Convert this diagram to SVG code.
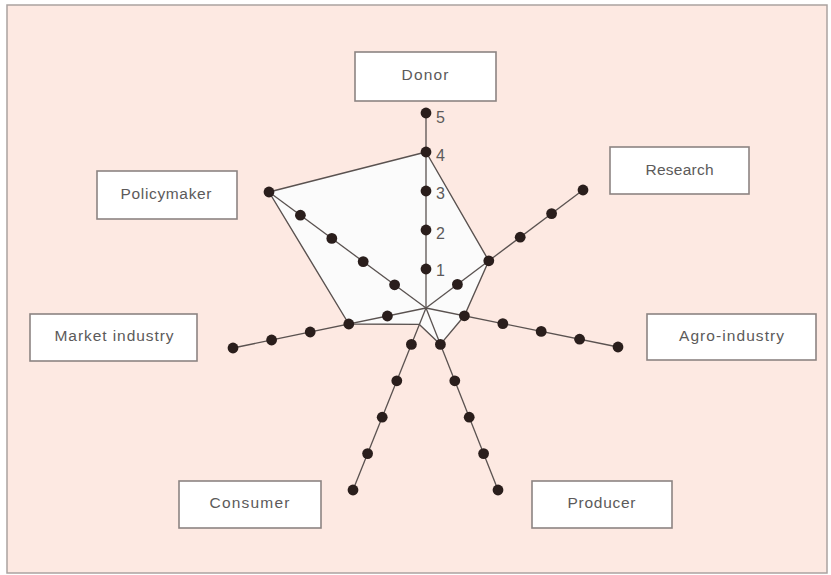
<svg xmlns="http://www.w3.org/2000/svg" width="831" height="575" viewBox="0 0 831 575">
<style>
.bg{fill:#fde9e2;stroke:#aaa2a0;stroke-width:1.5}
.box{fill:#ffffff;stroke:#8c8482;stroke-width:1.6}
.lbl{font-family:"Liberation Sans",Arial,sans-serif;font-size:15.5px;fill:#5c5a5a;text-anchor:middle}
.num{font-family:"Liberation Sans",Arial,sans-serif;font-size:16px;fill:#5c5a5a}
.spoke{stroke:#5a5250;stroke-width:1.3;fill:none}
.poly{fill:#fbfbfb;stroke:#5a5250;stroke-width:1.4;stroke-linejoin:round}
.dot{fill:#2a1e1c}
</style>
<rect class="bg" x="7" y="5" width="820" height="568"/>
<g id="connectors">
<polygon class="poly" points="426,152 488.8,260.8 464.4,315.8 440.4,344.4 419.4,324.4 348.8,324 269,192"/>
<line class="spoke" x1="426" y1="308" x2="426" y2="113"/>
<line class="spoke" x1="426" y1="308" x2="583" y2="190"/>
<line class="spoke" x1="426" y1="308" x2="618" y2="347"/>
<line class="spoke" x1="426" y1="308" x2="498" y2="490"/>
<line class="spoke" x1="426" y1="308" x2="353" y2="490"/>
<line class="spoke" x1="426" y1="308" x2="233" y2="348"/>
<line class="spoke" x1="426" y1="308" x2="269" y2="192"/>
</g>
<g id="dots">
<circle class="dot" cx="426" cy="269" r="5.4"/><circle class="dot" cx="426" cy="230" r="5.4"/><circle class="dot" cx="426" cy="191" r="5.4"/><circle class="dot" cx="426" cy="152" r="5.4"/><circle class="dot" cx="426" cy="113" r="5.4"/>
<circle class="dot" cx="457.4" cy="284.4" r="5.4"/><circle class="dot" cx="488.8" cy="260.8" r="5.4"/><circle class="dot" cx="520.2" cy="237.2" r="5.4"/><circle class="dot" cx="551.6" cy="213.6" r="5.4"/><circle class="dot" cx="583" cy="190" r="5.4"/>
<circle class="dot" cx="464.4" cy="315.8" r="5.4"/><circle class="dot" cx="502.8" cy="323.6" r="5.4"/><circle class="dot" cx="541.2" cy="331.4" r="5.4"/><circle class="dot" cx="579.6" cy="339.2" r="5.4"/><circle class="dot" cx="618" cy="347" r="5.4"/>
<circle class="dot" cx="440.4" cy="344.4" r="5.4"/><circle class="dot" cx="454.8" cy="380.8" r="5.4"/><circle class="dot" cx="469.2" cy="417.2" r="5.4"/><circle class="dot" cx="483.6" cy="453.6" r="5.4"/><circle class="dot" cx="498" cy="490" r="5.4"/>
<circle class="dot" cx="411.4" cy="344.4" r="5.4"/><circle class="dot" cx="396.8" cy="380.8" r="5.4"/><circle class="dot" cx="382.2" cy="417.2" r="5.4"/><circle class="dot" cx="367.6" cy="453.6" r="5.4"/><circle class="dot" cx="353" cy="490" r="5.4"/>
<circle class="dot" cx="387.4" cy="316" r="5.4"/><circle class="dot" cx="348.8" cy="324" r="5.4"/><circle class="dot" cx="310.2" cy="332" r="5.4"/><circle class="dot" cx="271.6" cy="340" r="5.4"/><circle class="dot" cx="233" cy="348" r="5.4"/>
<circle class="dot" cx="394.6" cy="284.8" r="5.4"/><circle class="dot" cx="363.2" cy="261.6" r="5.4"/><circle class="dot" cx="331.8" cy="238.4" r="5.4"/><circle class="dot" cx="300.4" cy="215.2" r="5.4"/><circle class="dot" cx="269" cy="192" r="5.4"/>
</g>
<g id="scale">
<text class="num" x="436" y="123">5</text>
<text class="num" x="436" y="161">4</text>
<text class="num" x="436" y="199">3</text>
<text class="num" x="436" y="239">2</text>
<text class="num" x="436" y="276">1</text>
</g>
<g id="donor"><rect class="box" x="355" y="52" width="141" height="49"/><text class="lbl" x="425" y="80" textLength="47">Donor</text></g>
<g id="research"><rect class="box" x="610" y="147" width="139" height="47"/><text class="lbl" x="679.5" y="175" textLength="68">Research</text></g>
<g id="agro-industry"><rect class="box" x="647" y="314" width="169" height="46"/><text class="lbl" x="731.5" y="341" textLength="105">Agro-industry</text></g>
<g id="producer"><rect class="box" x="532" y="481" width="140" height="47"/><text class="lbl" x="601.5" y="508" textLength="68">Producer</text></g>
<g id="consumer"><rect class="box" x="179" y="481" width="142" height="47"/><text class="lbl" x="249.5" y="508" textLength="80">Consumer</text></g>
<g id="market-industry"><rect class="box" x="30" y="314" width="167" height="47"/><text class="lbl" x="114" y="341" textLength="119">Market industry</text></g>
<g id="policymaker"><rect class="box" x="97" y="171" width="140" height="48"/><text class="lbl" x="166" y="199" textLength="91">Policymaker</text></g>
</svg>
